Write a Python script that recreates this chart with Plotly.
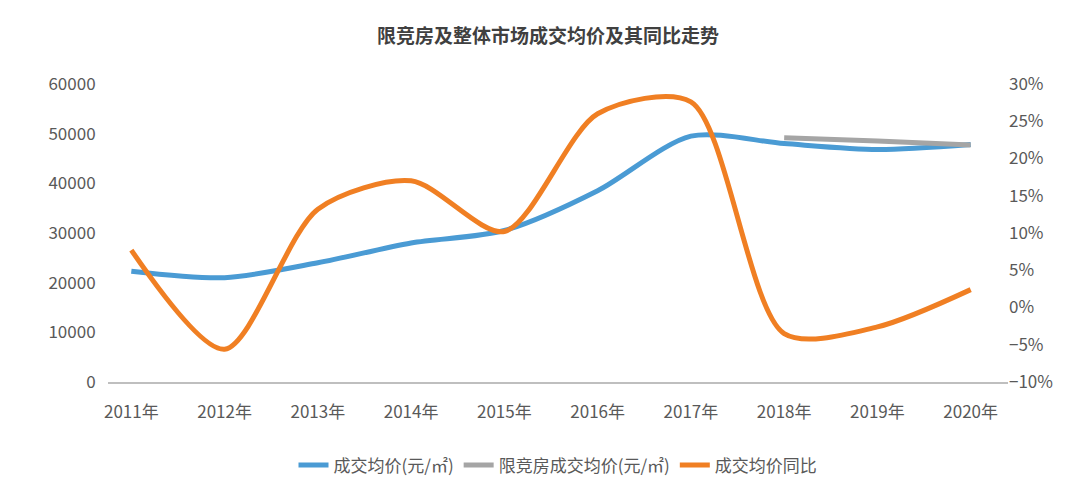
import plotly.graph_objects as go

years = ["2011年", "2012年", "2013年", "2014年", "2015年", "2016年", "2017年", "2018年", "2019年", "2020年"]
avg_price = [22300, 21000, 24000, 28000, 30500, 38500, 49500, 48000, 46800, 47800]
xjf_years = ["2018年", "2019年", "2020年"]
xjf_price = [49200, 48500, 47700]
yoy_pct = [7.7, -5.6, 13.2, 17.0, 10.2, 26.0, 27.6, -3.5, -2.6, 2.4]

FONT = "Noto Sans CJK SC"

fig = go.Figure()
fig.add_trace(go.Scatter(x=years, y=avg_price, name="成交均价(元/㎡)", mode="lines",
                         line=dict(color="#4a9bd4", width=5, shape="spline", smoothing=0.8)))
fig.add_trace(go.Scatter(x=xjf_years, y=xjf_price, name="限竞房成交均价(元/㎡)", mode="lines",
                         line=dict(color="#a5a5a5", width=5, shape="spline")))
fig.add_trace(go.Scatter(x=years, y=yoy_pct, name="成交均价同比", mode="lines", yaxis="y2",
                         line=dict(color="#f07f23", width=5, shape="spline", smoothing=0.8)))

fig.update_layout(
    width=1080, height=488,
    paper_bgcolor="white", plot_bgcolor="white",
    font=dict(family=FONT, size=17, color="#595959"),
    title=dict(text="<b>限竞房及整体市场成交均价及其同比走势</b>", x=0.5, y=0.955,
               font=dict(size=19, color="#404040")),
    margin=dict(l=100, r=80, t=76, b=99),
    xaxis=dict(showline=True, linecolor="#bfbfbf", linewidth=1.5, ticks="outside",
               ticklen=14, tickcolor="rgba(0,0,0,0)", showgrid=False, range=[-0.25, 9.4]),
    yaxis=dict(range=[0, 60000], dtick=10000, showgrid=False, zeroline=False, tickformat="d",
               ticks="outside", ticklen=8, tickcolor="rgba(0,0,0,0)"),
    yaxis2=dict(range=[-10, 30], dtick=5, overlaying="y", side="right", showgrid=False,
                zeroline=False, ticksuffix="%"),
    legend=dict(orientation="h", x=0.5, xanchor="center", y=-0.22, yanchor="top",
                font=dict(size=17)),
)
fig.write_html("out.html")
